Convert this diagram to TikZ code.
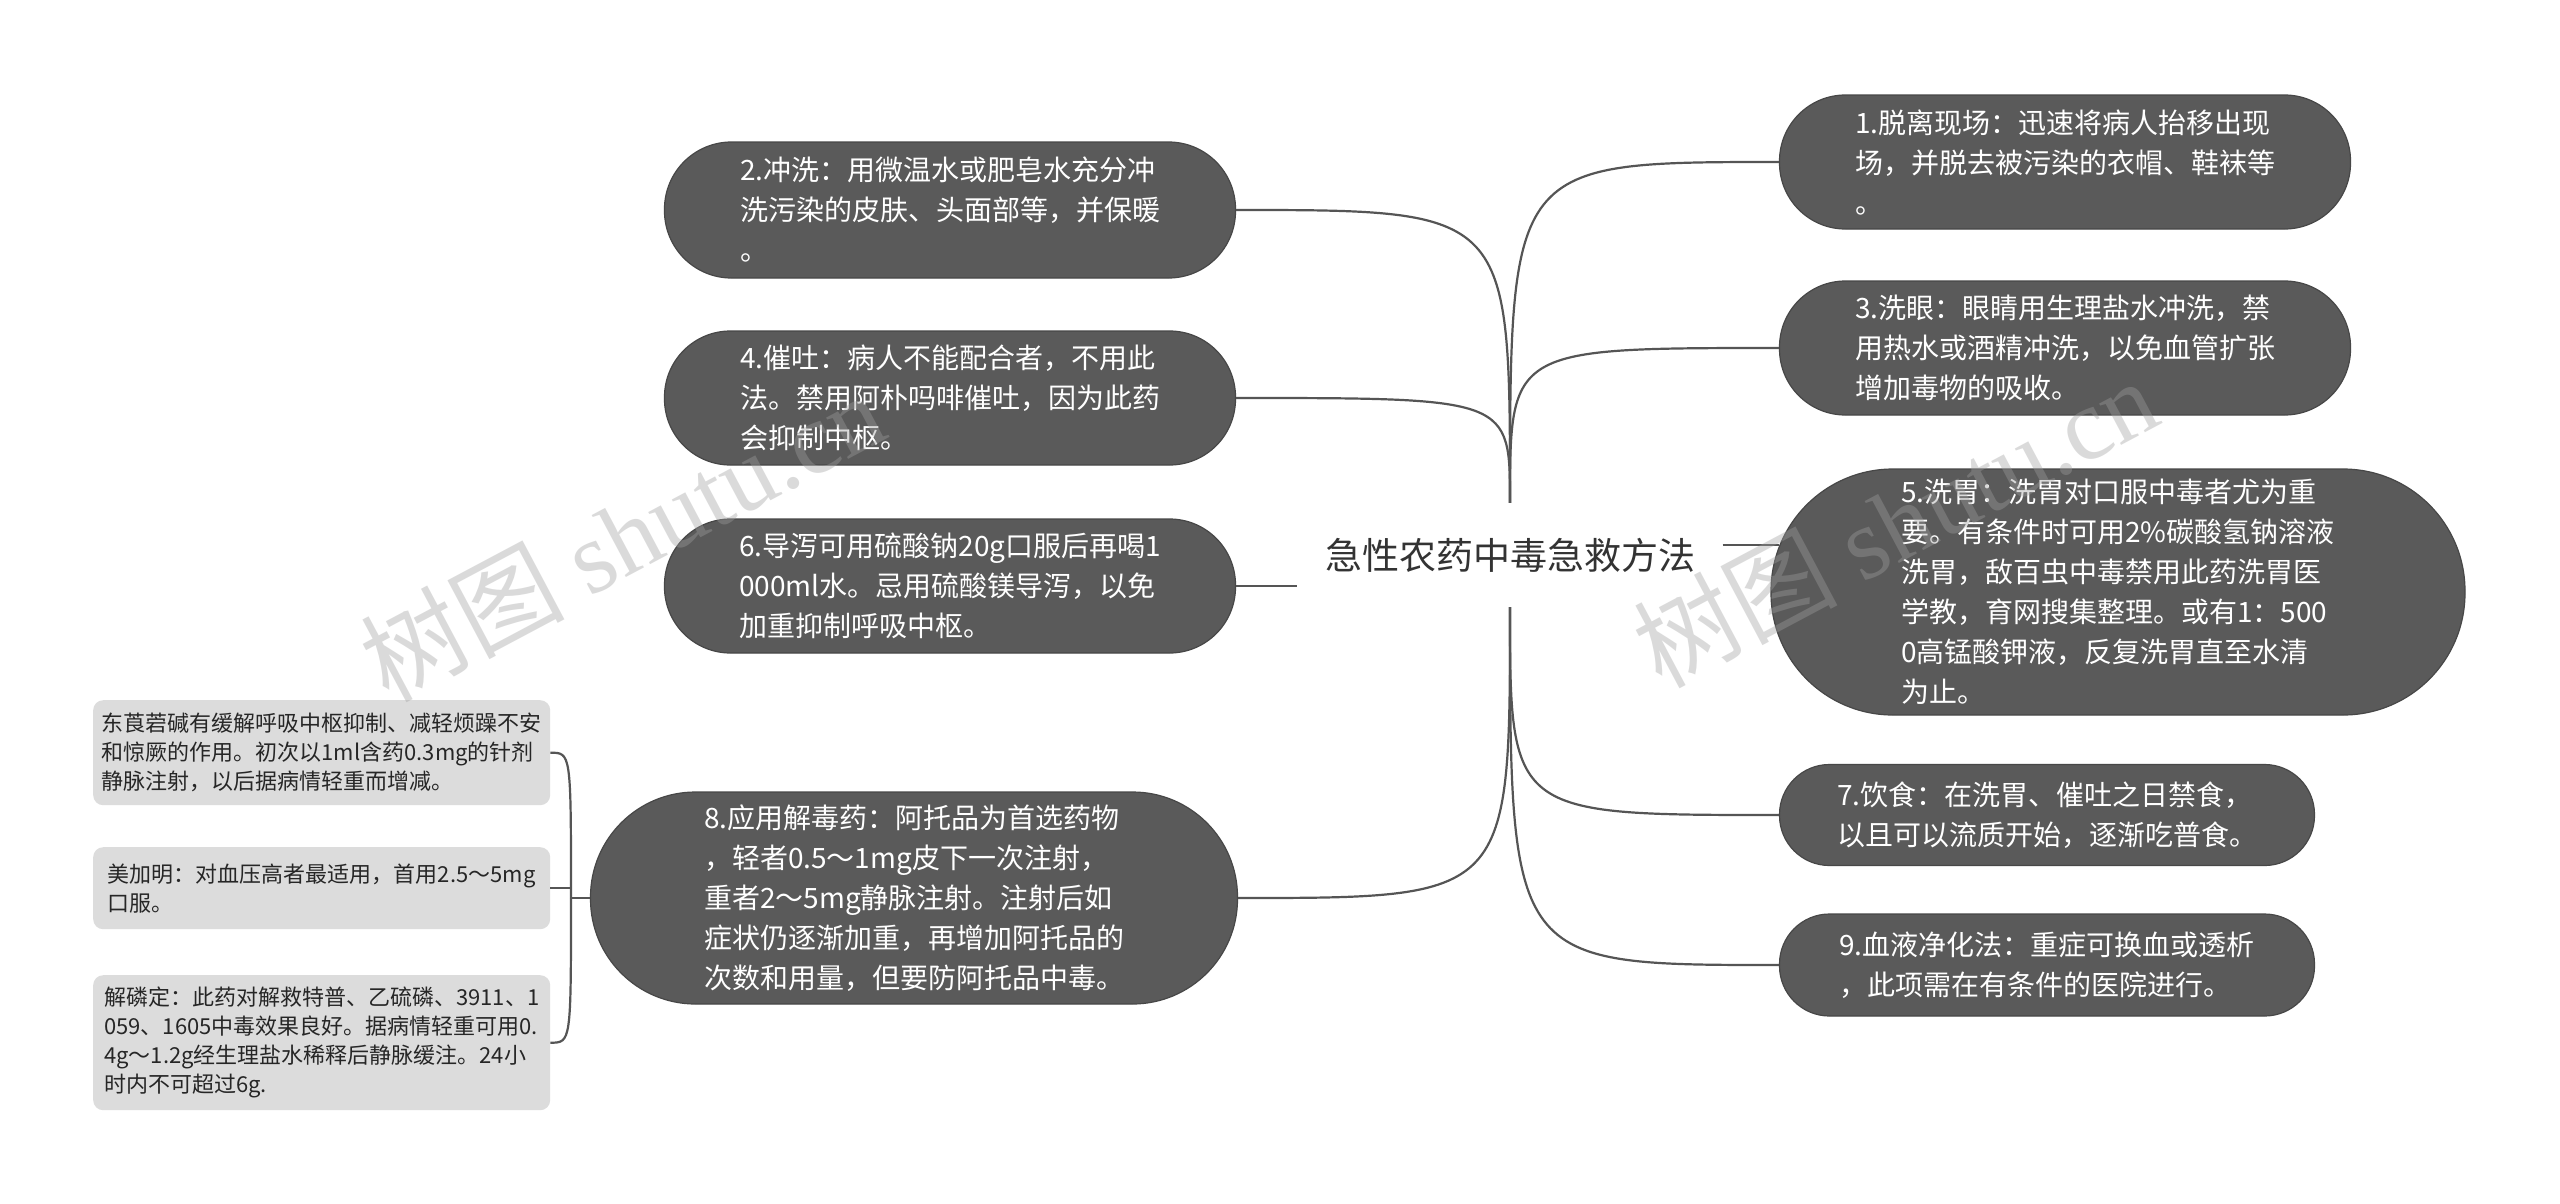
\documentclass[tikz,border=0pt]{standalone}
\usepackage{fontspec}
\setmainfont{Noto Sans CJK SC}
\newfontfamily\wmserif{Liberation Serif}
\usetikzlibrary{calc}
\definecolor{boxdark}{HTML}{5A5A5A}
\definecolor{boxedge}{HTML}{474747}
\definecolor{boxlight}{HTML}{DCDCDC}
\definecolor{linec}{HTML}{555555}
\definecolor{wm}{HTML}{A0A0A0}
\definecolor{ctext}{HTML}{333333}
\begin{document}
\begin{tikzpicture}[x=1pt,y=-1pt,
  dark/.style={rectangle, fill=boxdark, draw=boxedge, line width=1.2pt, text=white,
    align=left, font=\fontsize{28}{40}\selectfont, inner sep=0pt},
  light/.style={rectangle, fill=boxlight, rounded corners=10pt, text=black!85,
    align=left, font=\fontsize{22}{29}\selectfont, anchor=north west,
    minimum width=457pt, inner sep=0pt},
  conn/.style={draw=linec, line width=2.2pt},
  wmark/.style={text=wm, text opacity=0.38, rotate=28, font=\fontsize{102}{110}\selectfont, inner sep=0pt}]

\fill[white] (0,0) rectangle (2560,1203);
\useasboundingbox (0,0) rectangle (2560,1203);

% center
\node[font=\fontsize{37}{44}\selectfont, text=ctext, minimum width=425pt, minimum height=104pt, inner sep=0pt] (c) at (1510,555) {急性农药中毒急救方法};

% left branches
\node[dark, minimum width=571pt, minimum height=136pt, rounded corners=67pt] (n2) at (950,210)
  {2.冲洗：用微温水或肥皂水充分冲\\洗污染的皮肤、头面部等，并保暖\\。};
\node[dark, minimum width=571pt, minimum height=134pt, rounded corners=66pt] (n4) at (950,398)
  {4.催吐：病人不能配合者，不用此\\法。禁用阿朴吗啡催吐，因为此药\\会抑制中枢。};
\node[dark, minimum width=571pt, minimum height=134pt, rounded corners=66pt] (n6) at (950,586)
  {6.导泻可用硫酸钠20g口服后再喝1\\000ml水。忌用硫酸镁导泻，以免\\加重抑制呼吸中枢。};
\node[dark, minimum width=647pt, minimum height=212pt, rounded corners=105pt] (n8) at (914,898)
  {8.应用解毒药：阿托品为首选药物\\，轻者0.5～1mg皮下一次注射，\\重者2～5mg静脉注射。注射后如\\症状仍逐渐加重，再增加阿托品的\\次数和用量，但要防阿托品中毒。};

% right branches
\node[dark, minimum width=571pt, minimum height=134pt, rounded corners=66pt] (n1) at (2065,162)
  {1.脱离现场：迅速将病人抬移出现\\场，并脱去被污染的衣帽、鞋袜等\\。};
\node[dark, minimum width=571pt, minimum height=134pt, rounded corners=66pt] (n3) at (2065,348)
  {3.洗眼：眼睛用生理盐水冲洗，禁\\用热水或酒精冲洗，以免血管扩张\\增加毒物的吸收。};
\node[dark, minimum width=694pt, minimum height=246pt, rounded corners=122pt] (n5) at (2118,592)
  {5.洗胃：洗胃对口服中毒者尤为重\\要。有条件时可用2\%碳酸氢钠溶液\\洗胃，敌百虫中毒禁用此药洗胃医\\学教，育网搜集整理。或有1：500\\0高锰酸钾液，反复洗胃直至水清\\为止。};
\node[dark, minimum width=535pt, minimum height=101pt, rounded corners=50pt] (n7) at (2047,815)
  {7.饮食：在洗胃、催吐之日禁食，\\以且可以流质开始，逐渐吃普食。};
\node[dark, minimum width=535pt, minimum height=102pt, rounded corners=50pt] (n9) at (2047,965)
  {9.血液净化法：重症可换血或透析\\，此项需在有条件的医院进行。};

% children of 8
\node[light, minimum height=105pt] (k1) at (93,700)
  {东莨菪碱有缓解呼吸中枢抑制、减轻烦躁不安\\和惊厥的作用。初次以1ml含药0.3mg的针剂\\静脉注射，以后据病情轻重而增减。};
\node[light, minimum height=82pt] (k2) at (93,847)
  {美加明：对血压高者最适用，首用2.5～5mg\\口服。};
\node[light, minimum height=135pt] (k3) at (93,975)
  {解磷定：此药对解救特普、乙硫磷、3911、1\\059、1605中毒效果良好。据病情轻重可用0.\\4g～1.2g经生理盐水稀释后静脉缓注。24小\\时内不可超过6g.};

% connectors
\draw[conn] (c.north) .. controls (c.north |- n2.east) .. (n2.east);
\draw[conn] (c.north) .. controls (c.north |- n4.east) .. (n4.east);
\draw[conn] (n6.east) -- (c.west |- n6.east);
\draw[conn] (c.south) .. controls (c.south |- n8.east) .. (n8.east);
\draw[conn] (c.north) .. controls (c.north |- n1.west) .. (n1.west);
\draw[conn] (c.north) .. controls (c.north |- n3.west) .. (n3.west);
\coordinate (p5) at ($(n5.west)+(9,-47)$);
\draw[conn] (c.east |- p5) -- (p5);
\draw[conn] (c.south) .. controls (c.south |- n7.west) .. (n7.west);
\draw[conn] (c.south) .. controls (c.south |- n9.west) .. (n9.west);

\coordinate (v) at (571,898);
\draw[conn] (n8.west) -- (v);
\draw[conn] (k1.east) .. controls (v |- k1.east) .. (v);
\draw[conn] (k3.east) .. controls (v |- k3.east) .. (v);
\draw[conn] (k2.east) -- (v |- k2.east);

% watermarks
\node[wmark] (wm1) at (622,536) {树图 {\wmserif shutu.cn}};
\node[wmark] (wm2) at (1895,522) {树图 {\wmserif shutu.cn}};
\end{tikzpicture}
\end{document}
